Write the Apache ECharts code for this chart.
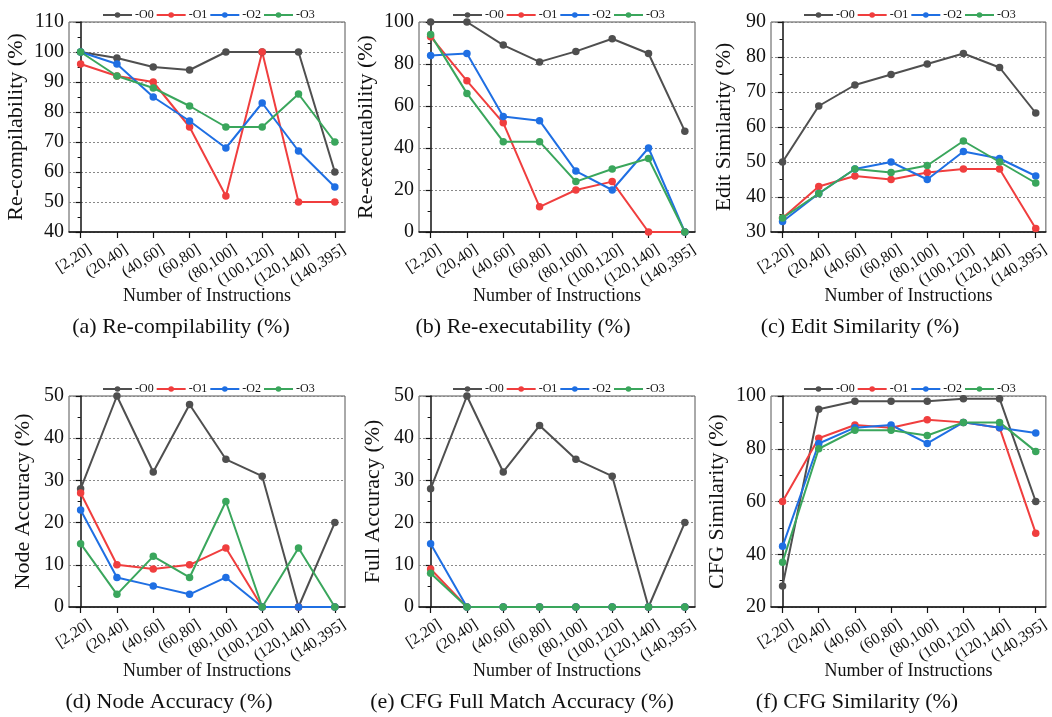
<!DOCTYPE html>
<html><head><meta charset="utf-8">
<script src="https://cdn.jsdelivr.net/npm/echarts@6/dist/echarts.min.js"></script>
<style>html,body{margin:0;padding:0;background:#fff}#c{width:1052px;height:717px}</style>
</head><body><div id="c"></div>
<script>
// ---------- data ----------
const categories = ['[2,20]','(20,40]','(40,60]','(60,80]','(80,100]','(100,120]','(120,140]','(140,395]'];
const seriesNames = ['-O0','-O1','-O2','-O3'];

const recompO0 = [100, 98, 95, 94, 100, 100, 100, 60];
const recompO1 = [96, 92, 90, 75, 52, 100, 50, 50];
const recompO2 = [100, 96, 85, 77, 68, 83, 67, 55];
const recompO3 = [100, 92, 88, 82, 75, 75, 86, 70];

const reexecO0 = [100, 100, 89, 81, 86, 92, 85, 48];
const reexecO1 = [93, 72, 52, 12, 20, 24, 0, 0];
const reexecO2 = [84, 85, 55, 53, 29, 20, 40, 0];
const reexecO3 = [94, 66, 43, 43, 24, 30, 35, 0];

const editO0 = [50, 66, 72, 75, 78, 81, 77, 64];
const editO1 = [34, 43, 46, 45, 47, 48, 48, 31];
const editO2 = [33, 41, 48, 50, 45, 53, 51, 46];
const editO3 = [34, 41, 48, 47, 49, 56, 50, 44];

const nodeO0 = [28, 50, 32, 48, 35, 31, 0, 20];
const nodeO1 = [27, 10, 9, 10, 14, 0, 0, 0];
const nodeO2 = [23, 7, 5, 3, 7, 0, 0, 0];
const nodeO3 = [15, 3, 12, 7, 25, 0, 14, 0];

const fullO0 = [28, 50, 32, 43, 35, 31, 0, 20];
const fullO1 = [9, 0, 0, 0, 0, 0, 0, 0];
const fullO2 = [15, 0, 0, 0, 0, 0, 0, 0];
const fullO3 = [8, 0, 0, 0, 0, 0, 0, 0];

const cfgO0 = [28, 95, 98, 98, 98, 99, 99, 60];
const cfgO1 = [60, 84, 89, 88, 91, 90, 88, 48];
const cfgO2 = [43, 82, 88, 89, 82, 90, 88, 86];
const cfgO3 = [37, 80, 87, 87, 85, 90, 90, 79];

const yNames = ['Re-compilability (%)','Re-executability (%)','Edit Similarity (%)','Node Accuracy (%)','Full Accuracy (%)','CFG Similarity (%)'];
const yMin = [40, 0, 30, 0, 0, 20];
const yMax = [110, 100, 90, 50, 50, 100];
const yInterval = [10, 20, 10, 10, 10, 20];
const captions = ['(a) Re-compilability (%)','(b) Re-executability (%)','(c) Edit Similarity (%)','(d) Node Accuracy (%)','(e) CFG Full Match Accuracy (%)','(f) CFG Similarity (%)'];
const xName = 'Number of Instructions';

const panelData = [
  [recompO0, recompO1, recompO2, recompO3],
  [reexecO0, reexecO1, reexecO2, reexecO3],
  [editO0, editO1, editO2, editO3],
  [nodeO0, nodeO1, nodeO2, nodeO3],
  [fullO0, fullO1, fullO2, fullO3],
  [cfgO0, cfgO1, cfgO2, cfgO3]
];

// ---------- layout / style ----------
const colors = ['#4f4f4f', '#f03e3e', '#1f6fe3', '#3aa65c'];
const FONT = '"Liberation Serif", "DejaVu Serif", serif';
const layout = [
  {left: 69,  top: 22,  width: 276, height: 210, legendLeft: 97,  nameGap: 42, capX: 181, capY: 327},
  {left: 419, top: 22,  width: 276, height: 210, legendLeft: 447, nameGap: 42, capX: 523, capY: 327},
  {left: 771, top: 22,  width: 276, height: 210, legendLeft: 798, nameGap: 36, capX: 860, capY: 327},
  {left: 69,  top: 396, width: 276, height: 211, legendLeft: 97,  nameGap: 35, capX: 169, capY: 702},
  {left: 419, top: 396, width: 276, height: 211, legendLeft: 447, nameGap: 35, capX: 522, capY: 702},
  {left: 771, top: 396, width: 276, height: 211, legendLeft: 798, nameGap: 43, capX: 857, capY: 702}
];

const grids = [], xAxes = [], yAxes = [], legends = [], series = [], graphics = [];
const tickIdx = categories.map((c, i) => i);

layout.forEach((L, p) => {
  grids.push({left: L.left, top: L.top, width: L.width, height: L.height, show: true,
    borderColor: '#555', borderWidth: 1, backgroundColor: 'transparent'});
  xAxes.push({
    type: 'value', gridIndex: p, min: -0.32, max: 7.28,
    name: xName, nameLocation: 'middle', nameGap: 55, nameMoveOverlap: false,
    nameTextStyle: {fontFamily: FONT, fontSize: 18, color: '#111'},
    axisLine: {show: true, lineStyle: {color: '#111', width: 1.5}},
    axisTick: {show: true, customValues: tickIdx, length: 6, lineStyle: {color: '#111', width: 1.2}},
    axisLabel: {show: true, customValues: tickIdx, rotate: 33, margin: 13,
      align: 'right', verticalAlign: 'top', padding: [0, -6, 0, 0],
      fontFamily: FONT, fontSize: 16, color: '#111',
      formatter: v => categories[Math.round(v)]},
    splitLine: {show: false}
  });
  yAxes.push({
    type: 'value', gridIndex: p, min: yMin[p], max: yMax[p], interval: yInterval[p],
    name: yNames[p], nameLocation: 'middle', nameGap: L.nameGap, nameRotate: 90, nameMoveOverlap: false,
    nameTextStyle: {fontFamily: FONT, fontSize: 22, color: '#111'},
    axisLine: {show: true, lineStyle: {color: '#111', width: 1.5}},
    axisTick: {show: true, inside: false, length: 5, lineStyle: {color: '#111', width: 1.2}},
    minorTick: {show: true, splitNumber: 2, length: 3, lineStyle: {color: '#111', width: 1}},
    axisLabel: {fontFamily: FONT, fontSize: 20, color: '#111', margin: 5},
    splitLine: {show: true, lineStyle: {color: '#888', type: [2, 2], width: 1}}
  });
  legends.push({
    left: L.legendLeft, top: L.top - 18, orient: 'horizontal',
    itemWidth: 29, itemHeight: 7, itemGap: 2,
    textStyle: {fontFamily: FONT, fontSize: 12, color: '#111', padding: [0, 0, 0, -2]},
    data: seriesNames
  });
  panelData[p].forEach((arr, s) => {
    series.push({
      name: seriesNames[s], type: 'line', xAxisIndex: p, yAxisIndex: p,
      data: arr.map((v, i) => [i, v]),
      symbol: 'circle', symbolSize: 7.5, showSymbol: true,
      lineStyle: {color: colors[s], width: 2},
      itemStyle: {color: colors[s]},
      animation: false
    });
  });
  graphics.push({
    type: 'text', x: L.capX, y: L.capY,
    style: {text: captions[p], fill: '#111', font: '22px ' + FONT,
      textAlign: 'center', textVerticalAlign: 'middle'}
  });
});

const chart = echarts.init(document.getElementById('c'), null, {renderer: 'canvas'});
chart.setOption({
  animation: false,
  backgroundColor: '#fff',
  grid: grids, xAxis: xAxes, yAxis: yAxes, legend: legends,
  series: series, graphic: graphics
});
</script></body></html>
